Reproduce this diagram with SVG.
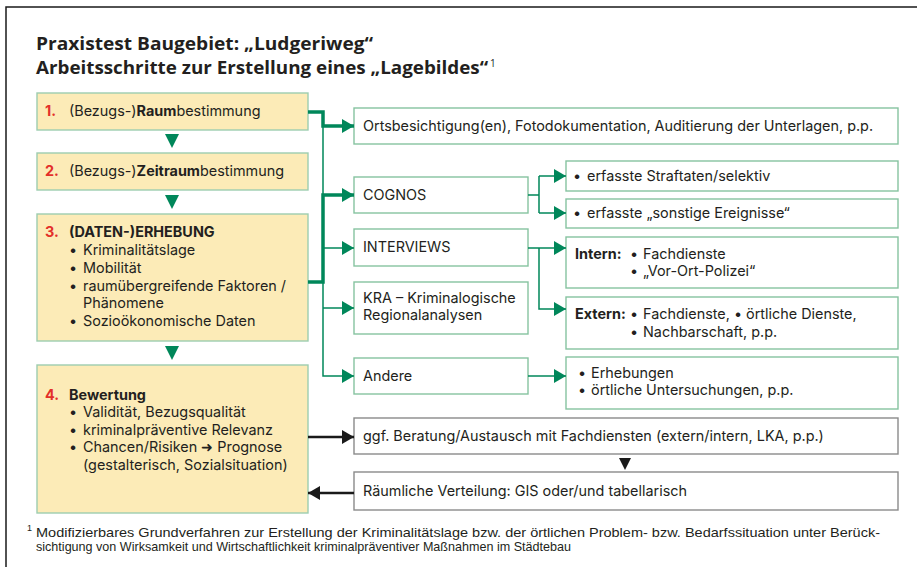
<svg xmlns="http://www.w3.org/2000/svg" width="917" height="567" viewBox="0 0 917 567">
<style>
text{font-family:Inter,"Open Sans","Liberation Sans",Arial,sans-serif;fill:#231f20;font-size:14.4px}
.b{font-weight:bold}
.num{font-weight:bold;fill:#e3302a}
.title{font-family:"Open Sans","Liberation Sans",Arial,sans-serif;font-size:18px;font-weight:bold}
.sup{font-family:"Open Sans","Liberation Sans",Arial,sans-serif;font-size:10px}
.fn{font-family:"Liberation Sans",Arial,sans-serif;font-size:13px}
.fnsup{font-family:"Liberation Sans",Arial,sans-serif;font-size:9px}
.yb{fill:#fcebb7;stroke:#9dcdaf;stroke-width:1.4}
.gb{fill:#fff;stroke:#86c3a0;stroke-width:1.4}
.kb{fill:#fff;stroke:#8a8a8a;stroke-width:1.4}
.gl{fill:none;stroke:#00875a;stroke-width:1.5}
.gt{fill:none;stroke:#00875a;stroke-width:3.5}
.kl{fill:none;stroke:#1a1a1a;stroke-width:2.5}
.gtri{fill:#00875a}
.ktri{fill:#1a1a1a}
</style>
<defs>
<marker id="ga" viewBox="0 0 12 14" refX="12" refY="7" markerWidth="12" markerHeight="14" markerUnits="userSpaceOnUse" orient="auto"><path d="M0,0 L12,7 L0,14 z" fill="#00875a"/></marker>
<marker id="ka" viewBox="0 0 12 14" refX="12" refY="7" markerWidth="12" markerHeight="14" markerUnits="userSpaceOnUse" orient="auto"><path d="M0,0 L12,7 L0,14 z" fill="#1a1a1a"/></marker>
</defs>
<rect width="917" height="567" fill="#fff"/>
<path d="M6,567 V7 H917" fill="none" stroke="#1a1a1a" stroke-width="1.5"/>
<g id="title">
<text class="title" x="36" y="50" textLength="337" lengthAdjust="spacingAndGlyphs">Praxistest Baugebiet: „Ludgeriweg“</text>
<text class="title" x="36" y="74" textLength="452" lengthAdjust="spacingAndGlyphs">Arbeitsschritte zur Erstellung eines „Lagebildes“</text>
<text class="sup" x="490" y="67">1</text>
</g>
<g id="step1">
<rect class="yb" x="37" y="93" width="271" height="37"/>
<text x="45" y="116"><tspan class="num">1.</tspan><tspan x="69">(Bezugs-)</tspan><tspan class="b">Raum</tspan>bestimmung</text>
</g>
<g id="step2">
<rect class="yb" x="37" y="153" width="271" height="37"/>
<text x="45" y="176"><tspan class="num">2.</tspan><tspan x="69">(Bezugs-)</tspan><tspan class="b">Zeitraum</tspan>bestimmung</text>
</g>
<g id="step3">
<rect class="yb" x="37" y="214" width="271" height="127"/>
<text x="45" y="237"><tspan class="num">3.</tspan><tspan x="69" class="b">(DATEN-)ERHEBUNG</tspan></text>
<text x="69" y="255">•<tspan x="83">Kriminalitätslage</tspan></text>
<text x="69" y="273">•<tspan x="83">Mobilität</tspan></text>
<text x="69" y="291">•<tspan x="83">raumübergreifende Faktoren /</tspan></text>
<text x="83" y="308">Phänomene</text>
<text x="69" y="326">•<tspan x="83">Sozioökonomische Daten</tspan></text>
</g>
<g id="step4">
<rect class="yb" x="37" y="365" width="271" height="148"/>
<text x="45" y="400"><tspan class="num">4.</tspan><tspan x="69" class="b">Bewertung</tspan></text>
<text x="69" y="417">•<tspan x="83">Validität, Bezugsqualität</tspan></text>
<text x="69" y="435">•<tspan x="83">kriminalpräventive Relevanz</tspan></text>
<text x="69" y="452">•<tspan x="83">Chancen/Risiken ➜ Prognose</tspan></text>
<text x="83" y="470">(gestalterisch, Sozialsituation)</text>
</g>
<g id="orts">
<rect class="gb" x="354" y="108" width="544" height="36"/>
<text x="363" y="131">Ortsbesichtigung(en), Fotodokumentation, Auditierung der Unterlagen, p.p.</text>
</g>
<g id="cognos">
<rect class="gb" x="354" y="177" width="174" height="36"/>
<text x="363" y="200">COGNOS</text>
</g>
<g id="interviews">
<rect class="gb" x="354" y="229" width="174" height="37"/>
<text x="363" y="252">INTERVIEWS</text>
</g>
<g id="kra">
<rect class="gb" x="354" y="282" width="174" height="52"/>
<text x="363" y="303">KRA – Kriminalogische</text>
<text x="363" y="320">Regionalanalysen</text>
</g>
<g id="andere">
<rect class="gb" x="354" y="358" width="174" height="36"/>
<text x="363" y="381">Andere</text>
</g>
<g id="straftaten">
<rect class="gb" x="566" y="161" width="332" height="30"/>
<text x="573" y="181">•<tspan x="587">erfasste Straftaten/selektiv</tspan></text>
</g>
<g id="sonstige">
<rect class="gb" x="566" y="199" width="332" height="29"/>
<text x="573" y="218">•<tspan x="587">erfasste „sonstige Ereignisse“</tspan></text>
</g>
<g id="intern">
<rect class="gb" x="566" y="237" width="332" height="51"/>
<text x="575" y="259"><tspan class="b">Intern:</tspan><tspan x="630">•</tspan><tspan x="643">Fachdienste</tspan></text>
<text x="630" y="276">•<tspan x="643">„Vor-Ort-Polizei“</tspan></text>
</g>
<g id="extern">
<rect class="gb" x="566" y="297" width="332" height="52"/>
<text x="575" y="319"><tspan class="b">Extern:</tspan><tspan x="630">•</tspan><tspan x="643">Fachdienste, • örtliche Dienste,</tspan></text>
<text x="630" y="337">•<tspan x="643">Nachbarschaft, p.p.</tspan></text>
</g>
<g id="erhebungen">
<rect class="gb" x="566" y="357" width="332" height="52"/>
<text x="578" y="378">•<tspan x="591">Erhebungen</tspan></text>
<text x="578" y="395">•<tspan x="591">örtliche Untersuchungen, p.p.</tspan></text>
</g>
<g id="beratung">
<rect class="kb" x="354" y="418" width="544" height="36"/>
<text x="363" y="441">ggf. Beratung/Austausch mit Fachdiensten (extern/intern, LKA, p.p.)</text>
</g>
<g id="verteilung">
<rect class="kb" x="354" y="472" width="544" height="38"/>
<text x="363" y="496">Räumliche Verteilung: GIS oder/und tabellarisch</text>
</g>
<g id="connectors">
<polygon class="gtri" points="165,134 179,134 172,148"/>
<polygon class="gtri" points="165,195 179,195 172,209"/>
<polygon class="gtri" points="165,346 179,346 172,360"/>
<path class="gl" d="M323,112 V376 H354" marker-end="url(#ga)"/>
<path class="gt" d="M308,112 H323 V126 H354" marker-end="url(#ga)"/>
<path class="gt" d="M308,282 H323 V195 H354" marker-end="url(#ga)"/>
<path class="gl" d="M323,248 H354" marker-end="url(#ga)"/>
<path class="gl" d="M323,308 H354" marker-end="url(#ga)"/>
<path class="gl" d="M528,195 H539 M539,176 V213"/>
<path class="gl" d="M539,176 H566" marker-end="url(#ga)"/>
<path class="gl" d="M539,213 H566" marker-end="url(#ga)"/>
<path class="gl" d="M528,248 H566" marker-end="url(#ga)"/>
<path class="gl" d="M539,248 V309 H566" marker-end="url(#ga)"/>
<path class="gl" d="M528,376 H566" marker-end="url(#ga)"/>
<path class="kl" d="M308,437 H354" marker-end="url(#ka)"/>
<path class="kl" d="M354,493 H308" marker-end="url(#ka)"/>
<polygon class="ktri" points="619,458 631,458 625,470"/>
</g>
<g id="footnote">
<text class="fnsup" x="27" y="531">1</text>
<text class="fn" x="36" y="537" textLength="844" lengthAdjust="spacingAndGlyphs">Modifizierbares Grundverfahren zur Erstellung der Kriminalitätslage bzw. der örtlichen Problem- bzw. Bedarfssituation unter Berück-</text>
<text class="fn" x="36" y="551" textLength="535" lengthAdjust="spacingAndGlyphs">sichtigung von Wirksamkeit und Wirtschaftlichkeit kriminalpräventiver Maßnahmen im Städtebau</text>
</g>
</svg>
